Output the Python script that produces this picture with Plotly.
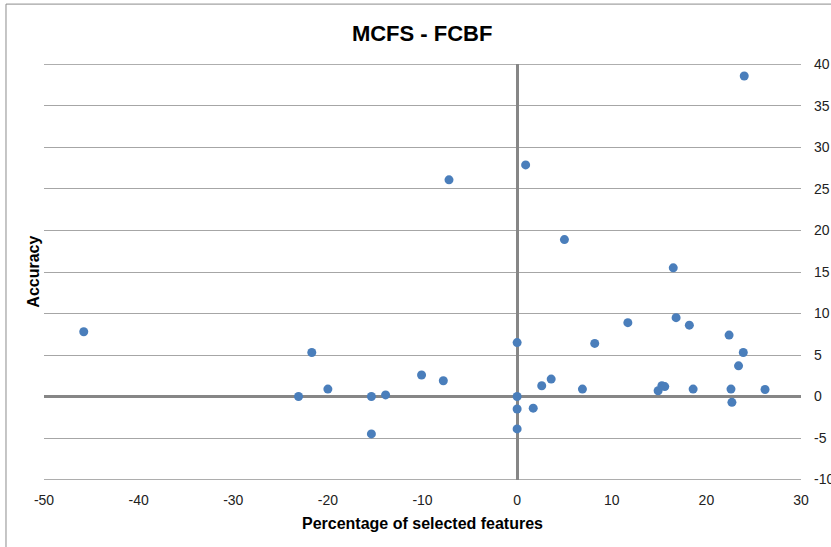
import plotly.graph_objects as go

# Percentage of selected features (x) and Accuracy (y)
pct_features = [-45.8, 24.0, 0.9, -7.2, 5.0, 11.7, 0.0, 8.2,
                -23.1, -21.7, -20.0, -15.4, -15.4, -13.9, -10.1, -7.8,
                0.0, 0.0, 0.0, 1.7, 2.6, 3.6,
                6.9, 16.5, 16.8, 18.2, 22.4, 23.9, 23.4,
                14.9, 15.3, 15.6, 18.6, 22.6, 22.7, 26.2]
accuracy = [7.8, 38.6, 27.9, 26.1, 18.9, 8.9, 6.5, 6.4,
            0.0, 5.3, 0.9, 0.0, -4.5, 0.2, 2.6, 1.9,
            0.0, -1.5, -3.9, -1.4, 1.3, 2.1,
            0.9, 15.5, 9.5, 8.6, 7.4, 5.3, 3.7,
            0.7, 1.3, 1.2, 0.9, 0.9, -0.7, 0.85]

x_ticks = [-50, -40, -30, -20, -10, 0, 10, 20, 30]
x_tick_labels = ["-50", "-40", "-30", "-20", "-10", "0", "10", "20", "30"]
y_ticks = [-10, -5, 0, 5, 10, 15, 20, 25, 30, 35, 40]
y_tick_labels = ["-10", "-5", "0", "5", "10", "15", "20", "25", "30", "35", "40"]

FONT = "Liberation Sans Narrow, Liberation Sans, Arial, sans-serif"
GRID = "#A6A6A6"

fig = go.Figure()
fig.add_trace(go.Scatter(
    x=pct_features, y=accuracy, mode="markers",
    marker=dict(size=9, color="#4A7EBB", line=dict(width=0)),
    showlegend=False, hoverinfo="skip",
))

# edge grid lines (top and bottom ticks), which plotly hides at the plot edge
edge_grid = [dict(type="line", xref="paper", yref="y", x0=0, x1=1,
                  y0=v, y1=v, line=dict(color=GRID, width=1), layer="below")
             for v in (y_ticks[0], y_ticks[-1])]

fig.update_layout(
    width=831, height=547,
    margin=dict(l=44, r=30, t=64, b=67, autoexpand=False),
    paper_bgcolor="white", plot_bgcolor="white",
    font=dict(family=FONT, size=14, color="#222"),
    title=dict(text="<b>MCFS - FCBF</b>", x=0.508, xanchor="center",
               y=0.94, yanchor="middle",
               font=dict(family=FONT, size=22, color="black")),
    xaxis=dict(range=[-50, 30], tickvals=x_ticks, ticktext=x_tick_labels,
               showgrid=False, automargin=False,
               zeroline=True, zerolinecolor="#868686", zerolinewidth=3,
               showline=False, ticks="", ticklabelstandoff=10,
               title=dict(text="<b>Percentage of selected features</b>",
                          font=dict(family=FONT, size=16, color="black"),
                          standoff=10)),
    yaxis=dict(range=[-10.05, 40.05], tickvals=y_ticks, ticktext=y_tick_labels,
               side="right", automargin=False,
               showgrid=True, gridcolor=GRID, gridwidth=1,
               zeroline=True, zerolinecolor="#868686", zerolinewidth=3,
               showline=False, ticks="", ticklabelstandoff=12),
    annotations=[dict(text="<b>Accuracy</b>", textangle=-90,
                      xref="paper", yref="paper", x=-0.015, y=0.5,
                      xanchor="center", yanchor="middle", showarrow=False,
                      font=dict(family=FONT, size=16, color="black"))],
    shapes=[dict(type="rect", xref="paper", yref="paper",
                 x0=-0.0502, x1=1.2, y0=-0.3, y1=1.144,
                 line=dict(color="#8C8C8C", width=1), layer="below")] + edge_grid,
)

fig.write_html("out.html", config={"displayModeBar": False},
               post_script="document.body.style.margin='0';document.body.style.overflow='hidden';")
